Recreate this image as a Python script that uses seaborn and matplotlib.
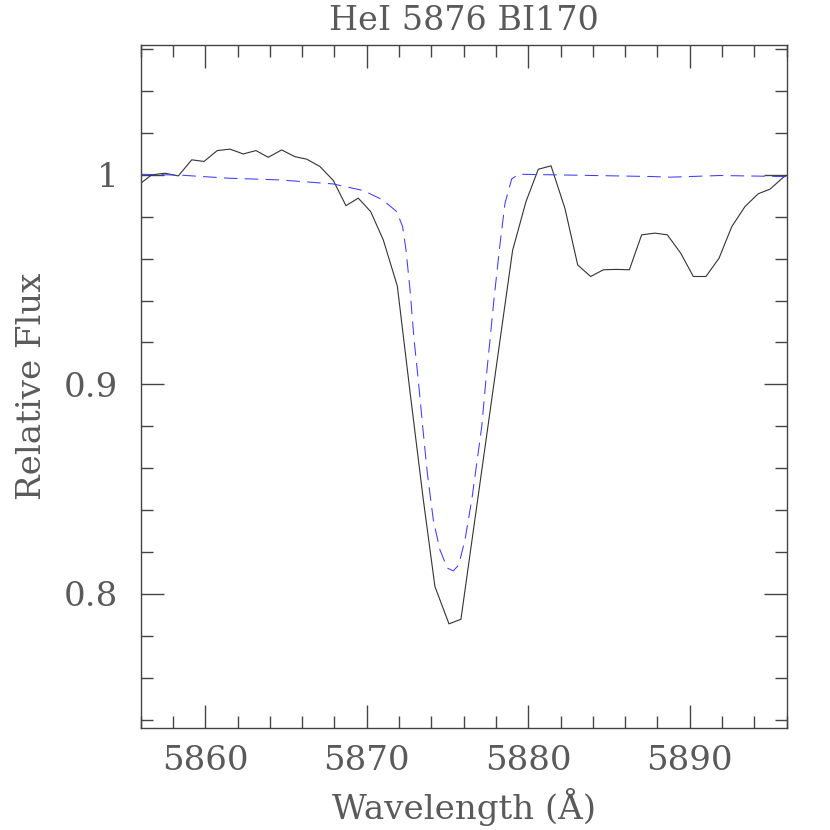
import matplotlib
matplotlib.use("Agg")
import matplotlib.pyplot as plt
from matplotlib.ticker import MultipleLocator, FuncFormatter
import seaborn as sns

# Espectro observado (linha preta)
obs_wave = [5856.0, 5856.68, 5857.5, 5858.33, 5859.16, 5859.92, 5860.74, 5861.53,
            5862.35, 5863.14, 5863.9, 5864.73, 5865.55, 5866.28, 5867.1, 5867.93,
            5868.71, 5869.47, 5870.24, 5871.02, 5871.89, 5872.7, 5873.5, 5874.22,
            5875.09, 5875.83, 5876.63, 5877.43, 5878.23, 5879.03, 5879.86, 5880.62,
            5881.41, 5882.27, 5883.06, 5883.86, 5884.65, 5885.45, 5886.26, 5887.02,
            5887.85, 5888.61, 5889.44, 5890.22, 5891.0, 5891.81, 5892.6, 5893.42,
            5894.24, 5894.97, 5895.8, 5896.6]
obs_flux = [0.996, 1.000, 1.0008, 0.9995, 1.0072, 1.0064, 1.0116, 1.0123,
            1.0100, 1.0116, 1.0084, 1.0119, 1.0087, 1.0075, 1.0040, 0.9973,
            0.9853, 0.9889, 0.9825, 0.9690, 0.9470, 0.895, 0.845, 0.8035,
            0.7857, 0.7879, 0.832, 0.876, 0.920, 0.964, 0.9873, 1.0027,
            1.0043, 0.984, 0.957, 0.9515, 0.9547, 0.9549, 0.9547, 0.9714,
            0.9722, 0.9714, 0.9626, 0.9515, 0.9515, 0.9602, 0.9753, 0.9849,
            0.9910, 0.9932, 0.9989, 1.002]

# Modelo (linha azul tracejada)
model_wave = [5856.0, 5858.4, 5861.5, 5864.6, 5867.9, 5869.8, 5871.0, 5871.85,
              5872.22, 5872.43, 5872.68, 5872.93, 5873.19, 5873.46, 5873.75, 5874.12,
              5874.53, 5874.99, 5875.36, 5875.69, 5876.08, 5876.5, 5876.84, 5877.12,
              5877.36, 5877.63, 5877.88, 5878.25, 5878.56, 5878.97, 5879.38, 5882.58,
              5887.74, 5888.78, 5891.87, 5896.0]
model_flux = [1.0003, 0.9999, 0.9984, 0.9976, 0.9957, 0.9925, 0.9880, 0.9825,
              0.9753, 0.9640, 0.9450, 0.9212, 0.9020, 0.8800, 0.8576, 0.8353,
              0.8210, 0.8123, 0.8110, 0.8138, 0.8258, 0.8449, 0.8640, 0.8800,
              0.9006, 0.9212, 0.9410, 0.9670, 0.9865, 0.9980, 1.0003, 0.9999,
              0.9992, 0.9989, 0.9997, 0.9992]

titulo = "HeI 5876 BI170"

sns.set_style("white")
plt.rcParams['font.family'] = ['DejaVu Serif', 'DejaVu Sans']
cor_texto = '#5a5a5a'

fig = plt.figure(figsize=(8.3, 8.3), dpi=100)
ax = fig.add_axes([0.1695, 0.1229, 0.7783, 0.8229])

sns.lineplot(x=obs_wave, y=obs_flux, ax=ax, color='#333333', linewidth=0.8,
             sort=False, estimator=None)
sns.lineplot(x=model_wave, y=model_flux, ax=ax, color='#3c3cff', linewidth=0.75,
             sort=False, estimator=None, linestyle=(0, (13, 7)))

ax.set_xlim(5856, 5896)
ax.set_ylim(0.736, 1.062)

ax.xaxis.set_major_locator(MultipleLocator(10))
ax.xaxis.set_minor_locator(MultipleLocator(2))
ax.yaxis.set_major_locator(MultipleLocator(0.1))
ax.yaxis.set_minor_locator(MultipleLocator(0.02))
ax.yaxis.set_major_formatter(FuncFormatter(lambda v, p: f"{v:g}"))

# Ticks para dentro nos quatro lados
ax.tick_params(which='both', direction='in', top=True, right=True,
               bottom=True, left=True, color='#444444', width=1.0)
ax.tick_params(which='major', length=16.5)
ax.tick_params(which='minor', length=8.5)
ax.tick_params(axis='x', which='major', labelsize=24.5, labelcolor=cor_texto, pad=12)
ax.tick_params(axis='y', which='major', labelsize=24.5, labelcolor=cor_texto, pad=16)

for s in ax.spines.values():
    s.set_color('#444444')
    s.set_linewidth(1.0)

ax.set_xlabel('Wavelength (Å)', fontsize=24.5, color=cor_texto, labelpad=8)
ax.set_ylabel('Relative Flux', fontsize=24.5, color=cor_texto, labelpad=12)
ax.set_title(titulo, fontsize=24, color=cor_texto, pad=11)

fig.savefig('out.png', dpi=100)
